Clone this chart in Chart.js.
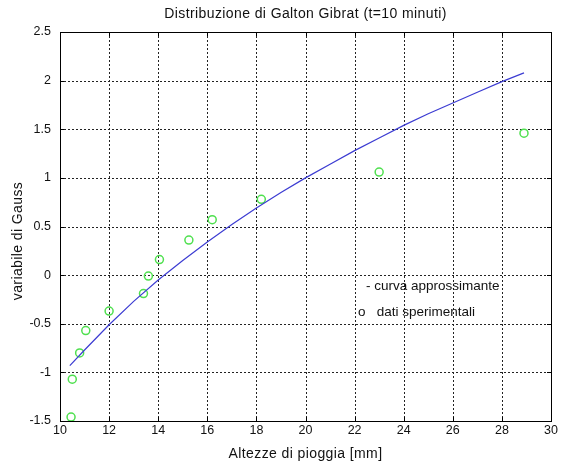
<!DOCTYPE html>
<html>
<head>
<meta charset="utf-8">
<script src="https://cdn.jsdelivr.net/npm/chart.js@4/dist/chart.umd.min.js"></script>
<style>
  html, body { margin: 0; padding: 0; background: #fff; }
  #wrap { width: 562px; height: 470px; }
</style>
</head>
<body>
<div id="wrap"><canvas id="c" width="562" height="470"></canvas></div>
<script>
// Fitted curve (curva approssimante)
const curveX = [10.4, 11, 12, 13, 14, 15, 16, 17, 18, 19, 20, 21, 22, 23, 24, 25, 26, 27, 28, 28.9];
const curveY = [-0.93, -0.77, -0.51, -0.27, -0.05, 0.15, 0.34, 0.52, 0.69, 0.85, 1.00, 1.14, 1.28, 1.41, 1.54, 1.66, 1.77, 1.88, 1.99, 2.08];

// Experimental data (dati sperimentali)
const dataX = [10.45, 10.5, 10.8, 11.05, 12.0, 13.4, 13.6, 14.05, 15.25, 16.2, 18.2, 23.0, 28.9];
const dataY = [-1.46, -1.07, -0.80, -0.57, -0.37, -0.19, -0.01, 0.16, 0.36, 0.57, 0.78, 1.06, 1.46];

// Axis ticks
const xTicks = [10, 12, 14, 16, 18, 20, 22, 24, 26, 28, 30];
const yTicks = [-1.5, -1, -0.5, 0, 0.5, 1, 1.5, 2, 2.5];

// Texts
const chartTitle = 'Distribuzione di Galton Gibrat (t=10 minuti)';
const xTitle = 'Altezze di pioggia [mm]';
const yTitle = 'variabile di Gauss';
const legendLines = ['- curva approssimante', 'o   dati sperimentali'];

const FONT = '"Liberation Sans", Arial, sans-serif';

// Dotted grid behind the data, at every inner tick
const dottedGrid = {
  id: 'dottedGrid',
  beforeDatasetsDraw(chart) {
    const ctx = chart.ctx;
    const a = chart.chartArea;
    const xs = chart.scales.x, ys = chart.scales.y;
    ctx.save();
    ctx.strokeStyle = '#222';
    ctx.lineWidth = 1;
    ctx.setLineDash([2, 2]);
    ctx.beginPath();
    xTicks.slice(1, -1).forEach(v => {
      const px = Math.round(xs.getPixelForValue(v)) + 0.5;
      ctx.moveTo(px, a.top); ctx.lineTo(px, a.bottom);
    });
    yTicks.slice(1, -1).forEach(v => {
      const py = Math.round(ys.getPixelForValue(v)) + 0.5;
      ctx.moveTo(a.left, py); ctx.lineTo(a.right, py);
    });
    ctx.stroke();
    ctx.restore();
  }
};

const frameAndText = {
  id: 'frameAndText',
  afterDraw(chart) {
    const ctx = chart.ctx;
    const a = chart.chartArea;
    const xs = chart.scales.x, ys = chart.scales.y;
    ctx.save();
    // plot frame
    ctx.strokeStyle = '#000';
    ctx.lineWidth = 1;
    ctx.setLineDash([]);
    ctx.strokeRect(Math.round(a.left) + 0.5, Math.round(a.top) + 0.5,
                   Math.round(a.right - a.left), Math.round(a.bottom - a.top));
    // small inward tick marks on all four edges
    ctx.beginPath();
    xTicks.forEach(v => {
      const px = Math.round(xs.getPixelForValue(v)) + 0.5;
      ctx.moveTo(px, a.top); ctx.lineTo(px, a.top + 4);
      ctx.moveTo(px, a.bottom); ctx.lineTo(px, a.bottom - 4);
    });
    yTicks.forEach(v => {
      const py = Math.round(ys.getPixelForValue(v)) + 0.5;
      ctx.moveTo(a.left, py); ctx.lineTo(a.left + 4, py);
      ctx.moveTo(a.right, py); ctx.lineTo(a.right - 4, py);
    });
    ctx.stroke();

    ctx.fillStyle = '#111';
    ctx.font = '14px ' + FONT;
    ctx.letterSpacing = '0.4px';
    ctx.textAlign = 'center';
    ctx.textBaseline = 'middle';
    const cx = (a.left + a.right) / 2;
    ctx.fillText(chartTitle, cx, 14);
    ctx.fillText(xTitle, cx, 454);
    ctx.save();
    ctx.translate(18, 241);
    ctx.rotate(-Math.PI / 2);
    ctx.fillText(yTitle, 0, 0);
    ctx.restore();

    // legend text inside the plot
    ctx.letterSpacing = '0px';
    ctx.font = '13.5px ' + FONT;
    ctx.textAlign = 'left';
    ctx.fillText(legendLines[0], 366, 286);
    ctx.fillText(legendLines[1], 358, 312);
    ctx.restore();
  }
};

new Chart(document.getElementById('c'), {
  type: 'scatter',
  data: {
    datasets: [
      {
        label: 'curva approssimante',
        data: curveX.map((x, i) => ({ x, y: curveY[i] })),
        showLine: true,
        borderColor: '#3c3cd2',
        borderWidth: 1.2,
        pointRadius: 0,
        tension: 0,
        fill: false
      },
      {
        label: 'dati sperimentali',
        data: dataX.map((x, i) => ({ x, y: dataY[i] })),
        showLine: false,
        pointStyle: 'circle',
        pointRadius: 4,
        borderColor: '#4fe04f',
        backgroundColor: 'rgba(0,0,0,0)',
        borderWidth: 1.5
      }
    ]
  },
  options: {
    responsive: false,
    animation: false,
    layout: { padding: { top: 32, right: 11, left: 0, bottom: 0 } },
    plugins: {
      legend: { display: false },
      title: { display: false },
      tooltip: { enabled: false }
    },
    scales: {
      x: {
        type: 'linear',
        min: 10, max: 30,
        afterBuildTicks: s => { s.ticks = xTicks.map(v => ({ value: v })); },
        afterFit: s => { s.height = 49; },
        grid: { display: false, drawTicks: false },
        border: { display: false },
        ticks: {
          color: '#111',
          font: { family: FONT, size: 12.5 },
          padding: 2,
          maxRotation: 0,
          callback: v => String(v)
        }
      },
      y: {
        type: 'linear',
        min: -1.5, max: 2.5,
        afterBuildTicks: s => { s.ticks = yTicks.map(v => ({ value: v })); },
        afterFit: s => { s.width = 60; },
        grid: { display: false, drawTicks: false },
        border: { display: false },
        ticks: {
          color: '#111',
          font: { family: FONT, size: 12.5 },
          padding: 9,
          callback: v => String(v)
        }
      }
    }
  },
  plugins: [dottedGrid, frameAndText]
});
</script>
</body>
</html>
